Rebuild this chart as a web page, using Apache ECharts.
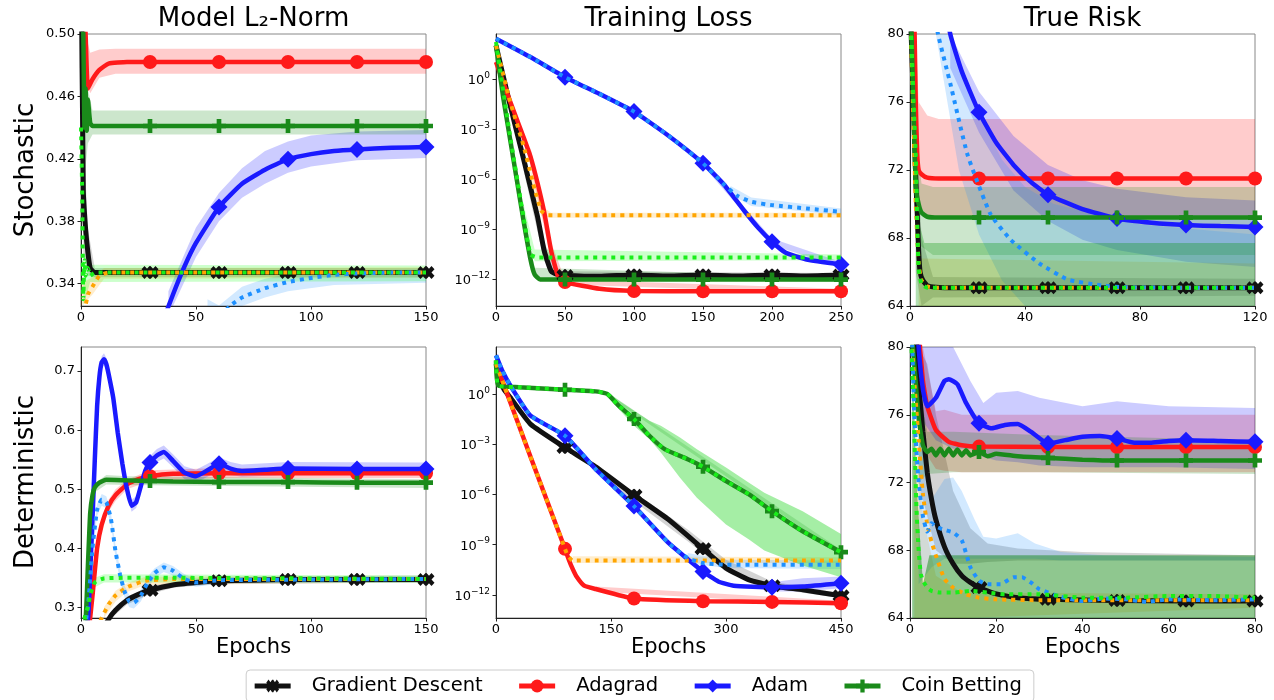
<!DOCTYPE html>
<html>
<head>
<meta charset="utf-8">
<script src="https://cdn.jsdelivr.net/npm/echarts@6/dist/echarts.min.js"></script>
<style>
  html, body { margin: 0; background: #fff; }
  #chart { width: 1274px; height: 700px; }
</style>
</head>
<body>
<div id="chart"></div>
<script>
// ---- data: [epoch, value]; bands: [epoch, low, high]
// loss panels hold log10 of the training loss

// stochastic / model L2-norm
const normS_gd = [[0,0.56],[1,0.40],[2,0.375],[3,0.36],[4,0.35],[6,0.347],[10,0.347],[30,0.347],[60,0.347],[90,0.347],[120,0.347],[150,0.347]];
const normS_ada = [[0,0.56],[2,0.50],[3,0.465],[5,0.471],[8,0.477],[12,0.481],[20,0.482],[30,0.482],[60,0.482],[90,0.482],[120,0.482],[150,0.482]];
const normS_adam = [[0,0.10],[20,0.22],[30,0.29],[35,0.313],[40,0.333],[45,0.351],[50,0.366],[60,0.389],[70,0.404],[80,0.413],[90,0.4197],[100,0.423],[110,0.425],[120,0.426],[135,0.427],[150,0.4275]];
const normS_coin = [[0,0.56],[1,0.50],[1.5,0.44],[2,0.465],[2.5,0.438],[3,0.458],[4,0.443],[5,0.441],[8,0.441],[30,0.441],[60,0.441],[90,0.441],[120,0.441],[150,0.441]];
const normS_orange = [[0,0.31],[3,0.333],[5,0.338],[8,0.345],[12,0.347],[20,0.347],[150,0.347]];
const normS_dblue = [[40,0.27],[50,0.30],[60,0.318],[65,0.326],[70,0.331],[80,0.337],[90,0.341],[100,0.3436],[110,0.3455],[120,0.3465],[135,0.347],[150,0.347]];
const normS_lime = [[0,0.44],[0.5,0.40],[1,0.33],[1.5,0.355],[2,0.345],[3,0.35],[4,0.345],[6,0.347],[150,0.347]];
const normS_gdBand = [[1,0.36,0.44],[3,0.345,0.375],[6,0.344,0.35],[150,0.344,0.35]];
const normS_adaBand = [[2,0.47,0.52],[4,0.462,0.488],[8,0.472,0.49],[15,0.4745,0.4905],[150,0.4745,0.4905]];
const normS_adamBand = [[38,0.318,0.335],[40,0.325,0.342],[50,0.357,0.376],[60,0.38,0.398],[70,0.395,0.414],[80,0.404,0.425],[90,0.411,0.431],[100,0.415,0.435],[120,0.419,0.4375],[150,0.4205,0.4385]];
const normS_coinBand = [[1,0.40,0.52],[3,0.43,0.465],[5,0.4355,0.451],[150,0.4355,0.451]];
const normS_orangeBand = [[0,0.30,0.34],[5,0.333,0.344],[10,0.343,0.350],[150,0.3435,0.3505]];
const normS_dblueBand = [[55,0.30,0.33],[60,0.31,0.326],[70,0.324,0.338],[80,0.331,0.343],[90,0.335,0.346],[110,0.339,0.3485],[150,0.3405,0.349]];
const normS_limeBand = [[1,0.32,0.36],[4,0.341,0.352],[150,0.3415,0.3515]];
const normS_marks = [30,60,90,120,150];

// stochastic / training loss (log10)
const lossS_gd = [[0,2.0],[10,-1.5],[20,-4.8],[30,-8.2],[35,-10.3],[40,-11.5],[45,-11.7],[50,-11.75],[75,-11.8],[100,-11.72],[125,-11.78],[150,-11.72],[175,-11.78],[200,-11.72],[225,-11.78],[250,-11.73]];
const lossS_ada = [[0,1.0],[10,-1.3],[20,-3.5],[25,-4.65],[30,-6.2],[35,-8.0],[40,-10.3],[45,-11.8],[50,-12.15],[75,-12.55],[100,-12.68],[150,-12.7],[200,-12.7],[250,-12.7]];
const lossS_adam = [[0,2.4],[25,1.3],[50,0.1],[75,-0.9],[100,-1.96],[125,-3.4],[150,-5.05],[165,-6.3],[180,-7.9],[190,-8.9],[200,-9.74],[210,-10.4],[225,-10.8],[250,-11.1]];
const lossS_coin = [[0,2.0],[5,-1.0],[10,-3.5],[15,-6.0],[20,-8.5],[25,-10.8],[28,-11.7],[32,-12.0],[50,-12.0],[100,-12.0],[150,-12.0],[200,-12.0],[250,-12.0]];
const lossS_orange = [[0,2.0],[10,-1.3],[20,-4.0],[28,-6.6],[33,-7.9],[38,-8.15],[50,-8.15],[250,-8.15]];
const lossS_dblue = [[0,2.4],[25,1.3],[50,0.1],[75,-0.9],[100,-1.96],[125,-3.4],[150,-5.05],[165,-6.3],[175,-7.0],[185,-7.35],[200,-7.55],[225,-7.75],[250,-7.95]];
const lossS_lime = [[0,2.2],[10,-3.3],[20,-8.3],[25,-10.5],[30,-10.68],[250,-10.68]];
const lossS_gdBand = [[20,-5.5,-4.0],[35,-10.9,-9.8],[45,-11.9,-11.5],[250,-11.9,-11.6]];
const lossS_adaBand = [[25,-5.2,-4.1],[40,-10.8,-9.8],[50,-12.3,-12.0],[250,-12.85,-12.55]];
const lossS_adamBand = [[150,-5.2,-4.9],[200,-9.95,-9.55],[250,-11.25,-10.95]];
const lossS_coinBand = [[20,-9.2,-7.9],[28,-11.9,-11.3],[250,-12.15,-11.85]];
const lossS_orangeBand = [[25,-6.6,-5.4],[33,-8.2,-7.6],[40,-8.3,-8.0],[250,-8.3,-8.0]];
const lossS_dblueBand = [[170,-6.9,-6.4],[185,-7.6,-7.1],[250,-8.15,-7.75]];
const lossS_limeBand = [[20,-8.8,-7.5],[28,-10.9,-10.2],[250,-10.85,-10.5]];
const lossS_marks = [50,100,150,200,250];

// stochastic / true risk
const riskS_gd = [[0,82],[1,77],[2,71.5],[2.5,69.5],[3,67.3],[3.5,66.0],[4.5,65.5],[6,65.2],[9,65.1],[12,65.08],[24,65.08],[48,65.08],[72,65.08],[96,65.08],[120,65.08]];
const riskS_ada = [[0,92],[1,86],[2,76],[2.5,73],[3,72],[4,71.75],[6,71.55],[10,71.5],[24,71.5],[48,71.5],[72,71.5],[96,71.5],[120,71.5]];
const riskS_adam = [[6,89],[10,84],[14,80],[18,77.8],[24,75.4],[30,73.6],[36,72.3],[42,71.3],[48,70.55],[60,69.7],[72,69.15],[84,68.9],[96,68.76],[108,68.7],[120,68.65]];
const riskS_coin = [[0,84],[1,77],[2,71],[3,70],[4,69.5],[6,69.25],[10,69.2],[24,69.2],[48,69.2],[72,69.2],[96,69.2],[120,69.2]];
const riskS_orange = [[0,82],[1,76],[2,70],[3,66.5],[4,65.5],[6,65.15],[10,65.08],[120,65.08]];
const riskS_dblue = [[6,86],[8,81.5],[10,79.8],[14,77.1],[20,72.9],[28,69.4],[35,67.9],[45,66.5],[55,65.55],[67,65.2],[75,65.1],[90,65.08],[120,65.08]];
const riskS_lime = [[0,82],[1,77],[2,73],[2.5,69],[3,66.2],[4,65.3],[6,65.08],[120,65.08]];
const riskS_gdBand = [[2,66,76],[4,64,68],[8,64.5,65.7],[120,64.6,65.6]];
const riskS_adaBand = [[2,76,80],[3,70,76],[6,69.2,75.2],[10,69.2,75.0],[120,69.2,75.0]];
const riskS_adamBand = [[14,78,82],[24,74.2,76.6],[36,70.8,74.0],[48,69.0,72.3],[60,67.9,71.4],[72,67.3,70.9],[96,66.6,70.4],[120,66.3,70.2]];
const riskS_coinBand = [[2,68,74],[4,67.5,71.2],[8,67.0,71.0],[120,67.0,71.0]];
const riskS_orangeBand = [[3,62,66.8],[120,62,66.5]];
const riskS_dblueBand = [[9,80,86],[14,75,80],[17,72,78],[24,68.2,75.3],[32,65.5,72.6],[40,63.7,71],[50,62,70],[80,62,68.8],[120,62,68.2]];
const riskS_limeBand = [[2,60,75],[3,60,69],[5,60,67.7],[120,60,67.7]];
const riskS_marks = [24,48,72,96,120];

// deterministic / model L2-norm
const normD_gd = [[0,0.15],[8,0.25],[12,0.28],[15,0.295],[20,0.312],[25,0.322],[30,0.329],[40,0.338],[50,0.342],[60,0.345],[75,0.346],[90,0.347],[120,0.347],[150,0.347]];
const normD_ada = [[0,0.2],[3,0.25],[5,0.32],[7,0.40],[9,0.44],[12,0.472],[15,0.49],[20,0.508],[25,0.517],[30,0.522],[40,0.526],[60,0.527],[90,0.527],[120,0.527],[150,0.527]];
const normD_adam = [[0,0.25],[3,0.28],[4,0.36],[5,0.45],[6,0.55],[7,0.64],[8,0.69],[9,0.715],[10,0.72],[11,0.712],[12,0.695],[14,0.655],[16,0.595],[18,0.543],[20,0.5],[22,0.472],[24,0.478],[26,0.505],[28,0.532],[30,0.545],[33,0.557],[36,0.563],[40,0.548],[45,0.528],[50,0.522],[55,0.532],[60,0.543],[65,0.535],[70,0.531],[80,0.533],[90,0.535],[120,0.534],[150,0.534]];
const normD_coin = [[0,0.25],[2,0.28],[3,0.37],[4,0.46],[5,0.49],[6,0.503],[8,0.511],[11,0.516],[20,0.515],[30,0.514],[40,0.513],[60,0.512],[90,0.512],[120,0.511],[150,0.511]];
const normD_orange = [[5,0.25],[9,0.282],[12,0.305],[15,0.32],[20,0.334],[28,0.345],[40,0.348],[150,0.348]];
const normD_dblue = [[1,0.25],[3,0.30],[5,0.40],[7,0.465],[9,0.482],[11,0.478],[13,0.45],[15,0.395],[17,0.355],[19,0.326],[21,0.31],[23,0.308],[26,0.32],[29,0.342],[32,0.358],[36,0.368],[40,0.362],[45,0.348],[50,0.342],[60,0.346],[150,0.348]];
const normD_lime = [[0,0.25],[2,0.29],[3,0.30],[4,0.32],[6,0.342],[10,0.349],[20,0.35],[40,0.35],[150,0.348]];
const normD_gdBand = [[15,0.288,0.302],[20,0.305,0.318],[30,0.322,0.336],[40,0.333,0.343],[60,0.34,0.35],[150,0.342,0.352]];
const normD_adaBand = [[12,0.462,0.482],[15,0.48,0.50],[20,0.5,0.516],[30,0.514,0.532],[60,0.519,0.536],[150,0.519,0.535]];
const normD_adamBand = [[8,0.68,0.70],[9,0.705,0.725],[10,0.71,0.73],[11,0.702,0.722],[12,0.685,0.705],[14,0.645,0.665],[16,0.585,0.605],[18,0.533,0.553],[20,0.49,0.51],[22,0.462,0.482],[24,0.468,0.488],[26,0.495,0.515],[28,0.522,0.542],[30,0.534,0.556],[33,0.546,0.568],[36,0.552,0.574],[40,0.537,0.559],[45,0.517,0.539],[50,0.511,0.533],[55,0.521,0.543],[60,0.532,0.554],[65,0.524,0.546],[70,0.521,0.542],[90,0.524,0.546],[150,0.523,0.545]];
const normD_coinBand = [[4,0.45,0.47],[6,0.495,0.51],[11,0.508,0.524],[20,0.507,0.522],[150,0.502,0.517]];
const normD_orangeBand = [[10,0.28,0.30],[15,0.31,0.328],[20,0.326,0.341],[28,0.338,0.352],[150,0.342,0.354]];
const normD_dblueBand = [[5,0.39,0.41],[7,0.455,0.475],[9,0.472,0.492],[11,0.468,0.488],[13,0.44,0.46],[15,0.385,0.405],[17,0.345,0.365],[19,0.316,0.336],[21,0.3,0.32],[23,0.298,0.318],[26,0.31,0.33],[29,0.332,0.352],[32,0.35,0.366],[36,0.36,0.376],[40,0.354,0.37],[45,0.34,0.356],[50,0.335,0.349],[60,0.34,0.352],[150,0.342,0.354]];
const normD_limeBand = [[3,0.29,0.31],[4,0.31,0.33],[6,0.334,0.35],[10,0.342,0.356],[150,0.342,0.354]];
const normD_marks = [30,60,90,120,150];

// deterministic / training loss (log10)
const lossD_gd = [[0,1.8],[10,0.3],[20,-0.3],[45,-1.8],[90,-3.2],[130,-4.35],[180,-6.05],[225,-7.5],[270,-9.25],[300,-10.4],[330,-11.1],[360,-11.45],[400,-11.7],[450,-12.05]];
const lossD_ada = [[0,1.8],[10,0.57],[45,-3.75],[90,-9.25],[95,-9.9],[100,-10.45],[105,-10.9],[115,-11.45],[130,-11.65],[180,-12.22],[270,-12.38],[360,-12.42],[450,-12.5]];
const lossD_adam = [[0,2.3],[8,1.4],[20,0.4],[45,-1.3],[90,-2.5],[130,-4.5],[180,-6.7],[225,-8.9],[270,-10.6],[290,-11.2],[310,-11.45],[360,-11.55],[400,-11.5],[450,-11.3]];
const lossD_coin = [[0,2.0],[3,0.5],[30,0.4],[90,0.25],[130,0.15],[145,0.0],[160,-0.7],[180,-1.5],[200,-2.5],[220,-3.3],[250,-3.9],[270,-4.35],[300,-5.2],[330,-6.0],[360,-7.0],[400,-8.2],[450,-9.45]];
const lossD_orange = [[0,1.8],[10,0.57],[45,-3.75],[88,-9.0],[93,-9.6],[100,-9.95],[450,-9.95]];
const lossD_dblue = [[0,2.3],[8,1.4],[20,0.4],[45,-1.3],[90,-2.5],[130,-4.5],[180,-6.7],[225,-8.9],[250,-9.8],[270,-10.1],[300,-10.2],[450,-10.2]];
const lossD_lime = [[0,2.0],[3,0.5],[30,0.4],[90,0.25],[130,0.15],[145,0.0],[160,-0.7],[180,-1.5],[200,-2.5],[220,-3.3],[250,-3.9],[270,-4.35],[300,-5.2],[330,-6.0],[360,-7.0],[400,-8.2],[450,-9.45]];
const lossD_gdBand = [[150,-5.4,-4.9],[250,-8.8,-8.1],[300,-10.6,-9.9],[360,-11.6,-11.2],[450,-12.2,-11.9]];
const lossD_adaBand = [[130,-11.8,-11.5],[450,-12.65,-12.35]];
const lossD_adamBand = [[350,-11.8,-11.3],[400,-11.8,-11.0],[450,-11.6,-10.9]];
const lossD_coinBand = [[145,-0.1,0.1],[450,-9.6,-9.3]];
const lossD_orangeBand = [[100,-10.1,-9.7],[450,-10.1,-9.75]];
const lossD_dblueBand = [[250,-10.1,-9.5],[300,-10.4,-9.9],[450,-10.45,-9.95]];
const lossD_limeBand = [[145,-0.1,0.15],[160,-0.9,-0.4],[180,-1.9,-1.0],[200,-2.7,-1.6],[215,-3.5,-1.9],[240,-5.0,-2.6],[262,-6.2,-3.3],[300,-7.8,-4.4],[330,-8.7,-5.3],[350,-9.35,-5.9],[400,-10.25,-7.0],[450,-10.95,-8.36]];
const lossD_marks = [90,180,270,360,450];

// deterministic / true risk
const riskD_gd = [[0,90],[1,83],[2,78],[3,75],[4,72.6],[5,71],[6,69.8],[8,68.2],[10,67.2],[12,66.5],[14,66.1],[16,65.8],[20,65.42],[25,65.2],[32,65.1],[48,65.03],[64,65.0],[80,65.0]];
const riskD_ada = [[0,90],[1,84],[2,81],[3,78],[4,76.5],[6,75.1],[9,74.4],[12,74.2],[16,74.12],[32,74.1],[48,74.1],[64,74.1],[80,74.1]];
const riskD_adam = [[0,88],[2,80],[3,77.5],[4,76.5],[6,77],[8,78.0],[9,78.1],[11,77.8],[13,76.7],[16,75.5],[19,75.2],[22,75.4],[25,75.45],[28,75.0],[32,74.3],[36,74.5],[40,74.7],[44,74.75],[48,74.6],[52,74.35],[56,74.35],[60,74.45],[64,74.5],[72,74.45],[80,74.4]];
const riskD_coin = [[0,82],[1,79],[2,75.8],[3,74.2],[4,73.8],[5,74.0],[6,73.6],[7,74.0],[8,73.6],[9,74.0],[10,73.6],[11,73.95],[12,73.6],[13,73.9],[14,73.6],[16,73.8],[18,73.55],[20,73.7],[25,73.55],[32,73.45],[40,73.35],[48,73.3],[64,73.3],[80,73.3]];
const riskD_orange = [[0,82],[1,78],[2,74.5],[3,71.3],[4,69.5],[5,68.5],[6,67.7],[8,66.3],[10,65.8],[13,65.4],[16,65.2],[20,65.1],[30,65.05],[80,65.05]];
const riskD_dblue = [[0,85],[1,76],[2,72],[3,70],[4,69.1],[5,69.6],[6,69.4],[8,69.2],[10,69.05],[12,68.6],[14,67.0],[16,66.2],[18,66.0],[21,66.0],[24,66.4],[26,66.4],[28,66.1],[30,65.7],[35,65.25],[40,65.0],[45,65.15],[50,65.1],[55,64.95],[60,65.1],[70,65.05],[80,65.1]];
const riskD_lime = [[0,82],[0.5,79],[1,75],[1.5,70.5],[2,68],[2.5,66.6],[3,66.2],[4,65.8],[5,65.6],[7,65.5],[10,65.5],[14,65.6],[18,65.5],[22,65.4],[30,65.4],[40,65.2],[50,65.2],[60,65.3],[70,65.3],[80,65.2]];
const riskD_gdBand = [[2,72,82],[4,70,79],[6,68,76],[10,67.2,71.5],[14,67.2,69.3],[18,67.3,68.4],[25,67.4,68.1],[40,67.4,67.9],[80,67.4,67.7]];
const riskD_adaBand = [[3,74,80],[6,72.8,76.2],[8,72.7,76.3],[12,72.6,76.0],[80,72.6,76.0]];
const riskD_adamBand = [[2,76,82],[6,74.5,82],[10,74,81],[14,74,78],[17,73.5,76.7],[20,73.3,77.3],[25,73.2,77.4],[30,73.0,77.0],[40,72.9,76.5],[48,72.9,76.8],[60,72.9,76.5],[80,72.8,76.4]];
const riskD_coinBand = [[2,72,78],[4,72.5,75.0],[10,72.6,75.0],[30,72.6,74.8],[80,72.5,74.5]];
const riskD_orangeBand = [[1,62,76],[3,62,70],[6,62,66.5],[12,63,65.5],[80,64.6,65.4]];
const riskD_dblueBand = [[2,66,76],[5,67,71],[8,67.5,72.2],[10,67.5,72.3],[12,67.5,71.5],[15,67.5,69.8],[17,67.5,68.8],[20,67.5,68.7],[25,67.5,69.0],[29,67.5,68.4],[35,67.4,67.9],[45,67.4,67.7],[80,67.4,67.6]];
const riskD_limeBand = [[0.5,60,80],[1.5,60,72],[3,60,66],[4.5,60,67.7],[80,60,67.7]];
const riskD_marks = [16,32,48,64,80];

// tick labels
const normS_ticks = [0.34,0.38,0.42,0.46,0.50];
const normD_ticks = [0.3,0.4,0.5,0.6,0.7];
const loss_ticks = [-12,-9,-6,-3,0];

const titles = ['Model L\u2082-Norm', 'Training Loss', 'True Risk'];
const rowNames = ['Stochastic', 'Deterministic'];
const legendNames = ['Gradient Descent', 'Adagrad', 'Adam', 'Coin Betting'];

// ---- styling
const FONT = 'DejaVu Sans';
const XX_PATH = 'path://M0,3 L3,0 L6,3 L9,0 L12,3 L9,6 L12,9 L9,12 L6,9 L3,12 L0,9 L3,6 Z M5,3 L8,0 L11,3 L14,0 L17,3 L14,6 L17,9 L14,12 L11,9 L8,12 L5,9 L8,6 Z';
const PLUS_PATH = 'path://M4,0 L8,0 L8,4 L12,4 L12,8 L8,8 L8,12 L4,12 L4,8 L0,8 L0,4 L4,4 Z';

const STYLE = {
  gd:     {name: legendNames[0], color: '#111111', band: 'rgba(0,0,0,0.17)',      symbol: XX_PATH,   size: [17, 13], width: 5},
  ada:    {name: legendNames[1], color: '#ff1a1a', band: 'rgba(255,0,0,0.2)',     symbol: 'circle',  size: 14, width: 4.5},
  adam:   {name: legendNames[2], color: '#1a1aff', band: 'rgba(0,0,255,0.2)',     symbol: 'diamond', size: 17, width: 4.5},
  coin:   {name: legendNames[3], color: '#1a8a1a', band: 'rgba(0,128,0,0.2)',     symbol: PLUS_PATH, size: 14, width: 4.5},
  orange: {name: 'orange', color: '#ffa500', band: 'rgba(255,165,0,0.2)'},
  dblue:  {name: 'dodgerblue', color: '#1e90ff', band: 'rgba(30,144,255,0.2)'},
  lime:   {name: 'lime', color: '#1aee1a', band: 'rgba(0,255,0,0.2)'}
};
const ORDER = ['gd', 'ada', 'adam', 'coin', 'orange', 'dblue', 'lime'];

const supFmt = v => '{b|10}{e|' + (v === 0 ? '0' : '\u2212' + Math.abs(v)) + '}';
const supRich = {
  b: {fontSize: 13, fontFamily: FONT, color: '#000', verticalAlign: 'bottom'},
  e: {fontSize: 9, fontFamily: FONT, color: '#000', verticalAlign: 'bottom', padding: [0, 0, 7, 0]}
};

const panels = [
  {grid: {left: 81, top: 34, width: 345, height: 272}, x: [0, 150, 50],
   y: {min: 0.3256, max: 0.5, ticks: normS_ticks, fmt: v => v.toFixed(2)},
   lines: {gd: normS_gd, ada: normS_ada, adam: normS_adam, coin: normS_coin, orange: normS_orange, dblue: normS_dblue, lime: normS_lime},
   bands: {gd: normS_gdBand, ada: normS_adaBand, adam: normS_adamBand, coin: normS_coinBand, orange: normS_orangeBand, dblue: normS_dblueBand, lime: normS_limeBand},
   marks: normS_marks},
  {grid: {left: 496, top: 34, width: 345, height: 272}, x: [0, 250, 50],
   y: {min: -13.58, max: 2.68, ticks: loss_ticks, fmt: supFmt, rich: supRich},
   lines: {gd: lossS_gd, ada: lossS_ada, adam: lossS_adam, coin: lossS_coin, orange: lossS_orange, dblue: lossS_dblue, lime: lossS_lime},
   bands: {gd: lossS_gdBand, ada: lossS_adaBand, adam: lossS_adamBand, coin: lossS_coinBand, orange: lossS_orangeBand, dblue: lossS_dblueBand, lime: lossS_limeBand},
   marks: lossS_marks},
  {grid: {left: 910, top: 34, width: 345, height: 272}, x: [0, 120, 40],
   y: {min: 64, max: 80, interval: 4, fmt: v => String(v)},
   lines: {gd: riskS_gd, ada: riskS_ada, adam: riskS_adam, coin: riskS_coin, orange: riskS_orange, dblue: riskS_dblue, lime: riskS_lime},
   bands: {gd: riskS_gdBand, ada: riskS_adaBand, adam: riskS_adamBand, coin: riskS_coinBand, orange: riskS_orangeBand, dblue: riskS_dblueBand, lime: riskS_limeBand},
   bandColors: {lime: 'rgba(0,150,0,0.3)'},
   marks: riskS_marks},
  {grid: {left: 81, top: 347, width: 345, height: 271}, x: [0, 150, 50],
   y: {min: 0.282, max: 0.7407, ticks: normD_ticks, fmt: v => v.toFixed(1)},
   lines: {gd: normD_gd, ada: normD_ada, adam: normD_adam, coin: normD_coin, orange: normD_orange, dblue: normD_dblue, lime: normD_lime},
   bands: {gd: normD_gdBand, ada: normD_adaBand, adam: normD_adamBand, coin: normD_coinBand, orange: normD_orangeBand, dblue: normD_dblueBand, lime: normD_limeBand},
   marks: normD_marks},
  {grid: {left: 496, top: 347, width: 345, height: 271}, x: [0, 450, 150],
   y: {min: -13.38, max: 2.8, ticks: loss_ticks, fmt: supFmt, rich: supRich},
   lines: {gd: lossD_gd, ada: lossD_ada, adam: lossD_adam, coin: lossD_coin, orange: lossD_orange, dblue: lossD_dblue, lime: lossD_lime},
   bands: {gd: lossD_gdBand, ada: lossD_adaBand, adam: lossD_adamBand, coin: lossD_coinBand, orange: lossD_orangeBand, dblue: lossD_dblueBand, lime: lossD_limeBand},
   bandColors: {lime: 'rgba(40,215,40,0.42)'},
   marks: lossD_marks},
  {grid: {left: 910, top: 347, width: 345, height: 271}, x: [0, 80, 20],
   y: {min: 64, max: 80, interval: 4, fmt: v => String(v)},
   lines: {gd: riskD_gd, ada: riskD_ada, adam: riskD_adam, coin: riskD_coin, orange: riskD_orange, dblue: riskD_dblue, lime: riskD_lime},
   bands: {gd: riskD_gdBand, ada: riskD_adaBand, adam: riskD_adamBand, coin: riskD_coinBand, orange: riskD_orangeBand, dblue: riskD_dblueBand, lime: riskD_limeBand},
   bandColors: {lime: 'rgba(0,128,0,0.44)'},
   marks: riskD_marks}
];

// shaded band as one polygon through the axis scales
function bandSeries(i, band, color, ymin, ymax) {
  return {
    type: 'custom', xAxisIndex: i, yAxisIndex: i, silent: true, z: 1,
    data: [[panels[i].x[0], ymin]],
    renderItem(params, api) {
      const c = v => Math.max(ymin, Math.min(ymax, v));
      const hi = band.map(d => api.coord([d[0], c(d[2])]));
      const lo = band.map(d => api.coord([d[0], c(d[1])])).reverse();
      return {type: 'polygon', shape: {points: hi.concat(lo)}, style: {fill: color}};
    }
  };
}

function lineSeries(i, key, data, marks) {
  const s = STYLE[key];
  const dotted = !s.symbol;
  return {
    type: 'line', name: s.name, xAxisIndex: i, yAxisIndex: i,
    smooth: 0.15, clip: true, z: dotted ? 4 : 3,
    symbol: s.symbol || 'none', symbolSize: s.size, showSymbol: !dotted,
    lineStyle: {color: s.color, width: s.width || 4, type: dotted ? [4, 5] : 'solid', cap: 'butt'},
    itemStyle: {color: s.color},
    emphasis: {disabled: true},
    data: data.map(d => (!dotted && marks.includes(d[0])) ? {value: d} : {value: d, symbol: 'none'})
  };
}

const series = [];
panels.forEach((p, i) => {
  ORDER.forEach(k => {
    const col = (p.bandColors && p.bandColors[k]) || STYLE[k].band;
    if (p.bands[k]) series.push(bandSeries(i, p.bands[k], col, p.y.min, p.y.max));
  });
  ORDER.forEach(k => series.push(lineSeries(i, k, p.lines[k], p.marks)));
});

const colCenters = [0, 1, 2].map(c => panels[c].grid.left + panels[c].grid.width / 2);

const option = {
  animation: false,
  backgroundColor: '#fff',
  title: titles.map((t, c) => ({
    text: t, left: colCenters[c], top: 6, textAlign: 'center', padding: 0,
    textStyle: {fontSize: 26, fontWeight: 'normal', fontFamily: FONT, color: '#000'}
  })),
  graphic: rowNames.map((t, r) => ({
    type: 'text', x: 26, y: r === 0 ? 170 : 482, rotation: Math.PI / 2,
    style: {text: t, font: '26px "DejaVu Sans"', fill: '#000', align: 'center', verticalAlign: 'middle'}
  })),
  legend: {
    data: legendNames, top: 670, left: 'center',
    itemWidth: 36, itemHeight: 16, itemGap: 34,
    padding: [6, 12, 6, 6],
    borderColor: '#cccccc', borderWidth: 1, borderRadius: 4,
    lineStyle: {width: 5},
    textStyle: {fontSize: 19.5, fontFamily: FONT, color: '#000', padding: [0, 0, 0, 16]}
  },
  grid: panels.map(p => Object.assign({show: true, borderColor: '#888', borderWidth: 1, backgroundColor: 'transparent'}, p.grid)),
  xAxis: panels.map((p, i) => ({
    gridIndex: i, type: 'value', min: p.x[0], max: p.x[1], interval: p.x[2],
    axisLine: {show: true, onZero: false, lineStyle: {color: '#222', width: 1}},
    axisTick: {show: true, length: 3.5, lineStyle: {color: '#222'}},
    splitLine: {show: false},
    axisLabel: {fontSize: 13, color: '#000', fontFamily: FONT, margin: 5, showMinLabel: true, showMaxLabel: true},
    name: i >= 3 ? 'Epochs' : '', nameLocation: 'middle', nameGap: 19,
    nameTextStyle: {fontSize: 21, color: '#000', fontFamily: FONT, verticalAlign: 'top'}
  })),
  yAxis: panels.map((p, i) => {
    const ax = {
      gridIndex: i, type: 'value', min: p.y.min, max: p.y.max,
      axisLine: {show: true, onZero: false, lineStyle: {color: '#222', width: 1}},
      axisTick: {show: true, length: 3.5, lineStyle: {color: '#222'}},
      splitLine: {show: false},
      axisLabel: {fontSize: 13, color: '#000', fontFamily: FONT, margin: 6, formatter: p.y.fmt, showMinLabel: true, showMaxLabel: true}
    };
    if (p.y.interval) ax.interval = p.y.interval;
    if (p.y.ticks) {
      ax.axisLabel.customValues = p.y.ticks;
      ax.axisTick.customValues = p.y.ticks;
    }
    if (p.y.rich) ax.axisLabel.rich = p.y.rich;
    return ax;
  }),
  series: series
};

const chart = echarts.init(document.getElementById('chart'));
chart.setOption(option);
</script>
</body>
</html>
